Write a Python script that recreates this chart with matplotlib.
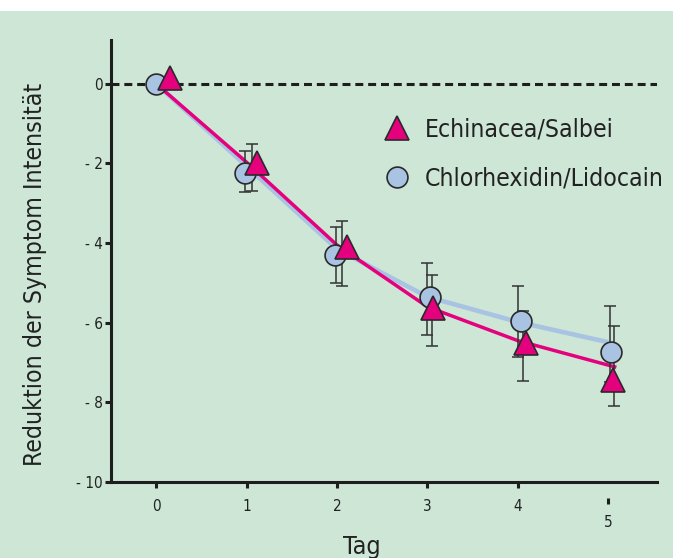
import matplotlib
matplotlib.use("Agg")
import matplotlib.pyplot as plt
from matplotlib.patches import Rectangle
from matplotlib.transforms import ScaledTranslation

plt.rcParams['font.family'] = ['DejaVu Sans']
plt.rcParams['font.stretch'] = 'condensed'

# data
days = [0, 1, 2, 3, 4, 5]
tick_labels_y = ['- 10', '- 8', '- 6', '- 4', '- 2', '0']

# Echinacea/Salbei (triangles)
ech_x = [0.15, 1.12, 2.11, 3.06, 4.09, 5.05]
ech_mean = [0.15, -2.0, -4.11, -5.64, -6.52, -7.44]
ech_bar_x = [1.06, 2.06, 3.05, 4.06, 5.06]
ech_low = [-2.7, -5.09, -6.59, -7.47, -8.1]
ech_high = [-1.5, -3.45, -4.79, -5.71, -6.09]
ech_fit_x = [0, 1, 2, 3, 4, 5.09]
ech_fit = [0, -1.97, -4.05, -5.6, -6.45, -7.12]

# Chlorhexidin/Lidocain (circles)
chl_x = [0, 0.98, 1.98, 3.03, 4.04, 5.03]
chl_mean = [0, -2.23, -4.29, -5.36, -5.96, -6.74]
chl_bar_x = [0.98, 1.99, 3.0, 4.0, 5.02]
chl_low = [-2.72, -4.99, -6.32, -6.87, -7.5]
chl_high = [-1.68, -3.6, -4.51, -5.09, -5.59]
chl_fit_x = [0, 1, 2, 3, 4, 5.0]
chl_fit = [0, -2.07, -4.15, -5.35, -5.98, -6.49]

pink = '#e5007d'
blue = '#a9c3e3'
dark = '#1e1e1e'
green_bg = '#cde6d6'

fig = plt.figure(figsize=(6.73, 5.58), dpi=100, facecolor='white')
fig.patches.append(Rectangle((0, 0), 1, 1 - 11 / 558, transform=fig.transFigure,
                             facecolor=green_bg, edgecolor='none', zorder=-10))
ax = fig.add_axes([111 / 673, 1 - 482 / 558, 546 / 673, 442 / 558])
ax.set_facecolor('none')

ax.set_xlim(-0.5, 5.54)
ax.set_ylim(-10, 1.1)

# zero line
ax.axhline(0, color=dark, lw=2.2, dashes=(2.6, 1.6), zorder=1)

# fitted lines
ax.plot(chl_fit_x, chl_fit, color=blue, lw=3.3, zorder=2, solid_capstyle='butt')
ax.plot(ech_fit_x, ech_fit, color=pink, lw=2.5, zorder=2.1, solid_capstyle='butt')

# error bars
def bars(xs, low, high):
    mid = [(a + b) / 2 for a, b in zip(low, high)]
    err = [(b - a) / 2 for a, b in zip(low, high)]
    ax.errorbar(xs, mid, yerr=err, fmt='none', ecolor='#333333', elinewidth=1.1,
                capsize=4, capthick=1.1, zorder=3)

bars(chl_bar_x, chl_low, chl_high)
bars(ech_bar_x, ech_low, ech_high)

# markers
ax.plot(chl_x, chl_mean, 'o', ms=15, mfc=blue, mec='#2a2a2a', mew=1.2,
        zorder=4, label='Chlorhexidin/Lidocain')
ax.plot(ech_x, ech_mean, '^', ms=17, mfc=pink, mec='#2a2a2a', mew=1.2,
        zorder=5, label='Echinacea/Salbei')

handles, labels = ax.get_legend_handles_labels()
ax.legend(handles[::-1], labels[::-1], loc='upper left', bbox_to_anchor=(0.4615, 0.874),
          frameon=False, fontsize=17.7, handlelength=1.0, handletextpad=0.6,
          labelspacing=1.0, borderpad=0.4, numpoints=1, labelcolor='#222222')

# axes styling
for side in ['top', 'right']:
    ax.spines[side].set_visible(False)
for side in ['left', 'bottom']:
    ax.spines[side].set_linewidth(2.2)
    ax.spines[side].set_color(dark)

ax.set_yticks([-10, -8, -6, -4, -2, 0])
ax.set_yticklabels(tick_labels_y)
ax.set_xticks(days)
ax.set_xticklabels([str(d) for d in days])
ax.tick_params(axis='both', direction='out', length=4.5, width=2.2, color=dark,
               labelsize=11, labelcolor='#222222')
ax.tick_params(axis='y', pad=1.5)
ax.tick_params(axis='x', pad=8)

# tick 5 is drawn lower in the original
shift = ScaledTranslation(0, -16 / 100, fig.dpi_scale_trans)
t5 = ax.xaxis.get_major_ticks()[5]
t5.tick1line.set_transform(t5.tick1line.get_transform() + shift)
t5.label1.set_transform(t5.label1.get_transform() + shift)

ax.set_ylabel('Reduktion der Symptom Intensität', fontsize=17.8, color='#222222')
ax.yaxis.set_label_coords(-0.118, 0.47)
ax.set_xlabel('Tag', fontsize=18, color='#222222')
ax.xaxis.set_label_coords(0.46, -0.12)

fig.savefig('out.png', dpi=100, facecolor=fig.get_facecolor())
